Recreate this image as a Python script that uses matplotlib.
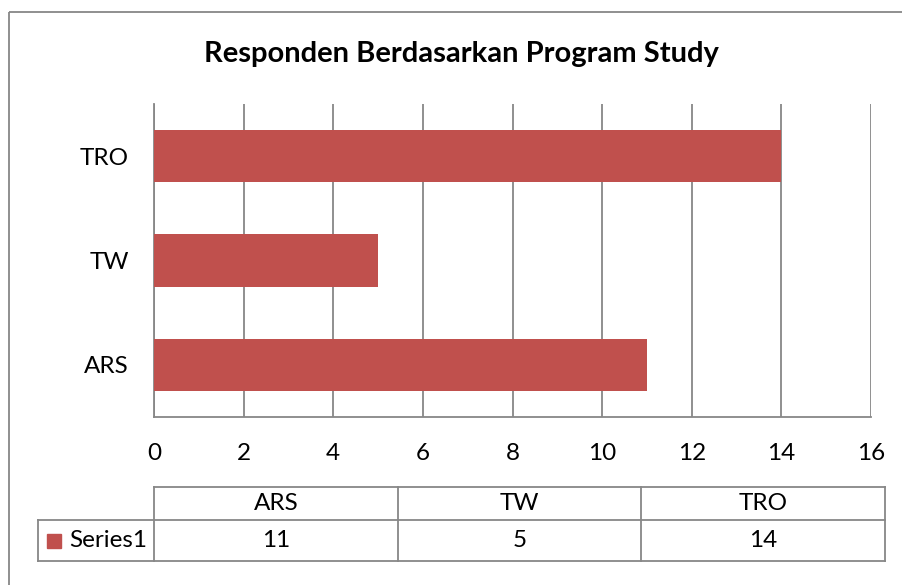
import matplotlib
matplotlib.use("Agg")
import matplotlib.pyplot as plt
from matplotlib.patches import Rectangle

plt.rcParams['font.family'] = ['Lato', 'DejaVu Sans']

categories = ['ARS', 'TW', 'TRO']
values = [11, 5, 14]
series_name = 'Series1'
title = 'Responden Berdasarkan Program Study'
xticks = [0, 2, 4, 6, 8, 10, 12, 14, 16]

bar_color = '#C0504D'
grid_color = '#878787'
fs = 17.5

W, H = 902, 585
fig = plt.figure(figsize=(W / 100, H / 100), dpi=100)


def fx(px):
    return px / W


def fy(py):
    return 1 - py / H


# overlay in pixel coords for border, title and data table
ov = fig.add_axes([0, 0, 1, 1])
ov.set_xlim(0, W)
ov.set_ylim(H, 0)
ov.axis('off')
ov.add_patch(Rectangle((9, 12), W + 20, H + 20, fill=False, ec=grid_color, lw=1.3))
ov.text(461, 62, title, ha='center', va='baseline', fontsize=21, fontweight='bold')

# main bar chart
left, right, top, bottom = 154, 871, 104, 417
ax = fig.add_axes([fx(left), fy(bottom), fx(right - left), (bottom - top) / H])
pos = list(range(len(categories)))
ax.barh(pos, values, height=0.5, color=bar_color, zorder=3)
ax.set_xlim(xticks[0], xticks[-1])
ax.set_ylim(-0.5, len(categories) - 0.5)
ax.set_xticks(xticks)
ax.set_yticks(pos)
ax.set_yticklabels(categories)
ax.xaxis.grid(True, color=grid_color, lw=1.3, zorder=0)
ax.tick_params(axis='both', length=0, labelsize=fs)
ax.tick_params(axis='x', pad=18.5)
ax.tick_params(axis='y', pad=18)
for s in ['top', 'right']:
    ax.spines[s].set_visible(False)
for s in ['left', 'bottom']:
    ax.spines[s].set_color(grid_color)
    ax.spines[s].set_linewidth(1.3)

# data table under the chart
t_left, t_right = 154, 885
lbl_left = 38
r0, r1, r2 = 487, 520, 561
col_w = (t_right - t_left) / len(categories)
lk = dict(color=grid_color, lw=1.3)
ov.plot([t_left, t_right], [r0, r0], **lk)
ov.plot([lbl_left, t_right], [r1, r1], **lk)
ov.plot([lbl_left, t_right], [r2, r2], **lk)
ov.plot([lbl_left, lbl_left], [r1, r2], **lk)
for i in range(len(categories) + 1):
    x = t_left + i * col_w
    ov.plot([x, x], [r0, r2], **lk)
for i, (c, v) in enumerate(zip(categories, values)):
    xc = t_left + (i + 0.5) * col_w
    ov.text(xc, (r0 + r1) / 2, c, ha='center', va='center', fontsize=fs)
    ov.text(xc, (r1 + r2) / 2, str(v), ha='center', va='center', fontsize=fs)
ov.add_patch(Rectangle((47, 534), 14, 14, color=bar_color))
ov.text(69, (r1 + r2) / 2, series_name, ha='left', va='center', fontsize=fs)

fig.savefig('out.png', dpi=100)
